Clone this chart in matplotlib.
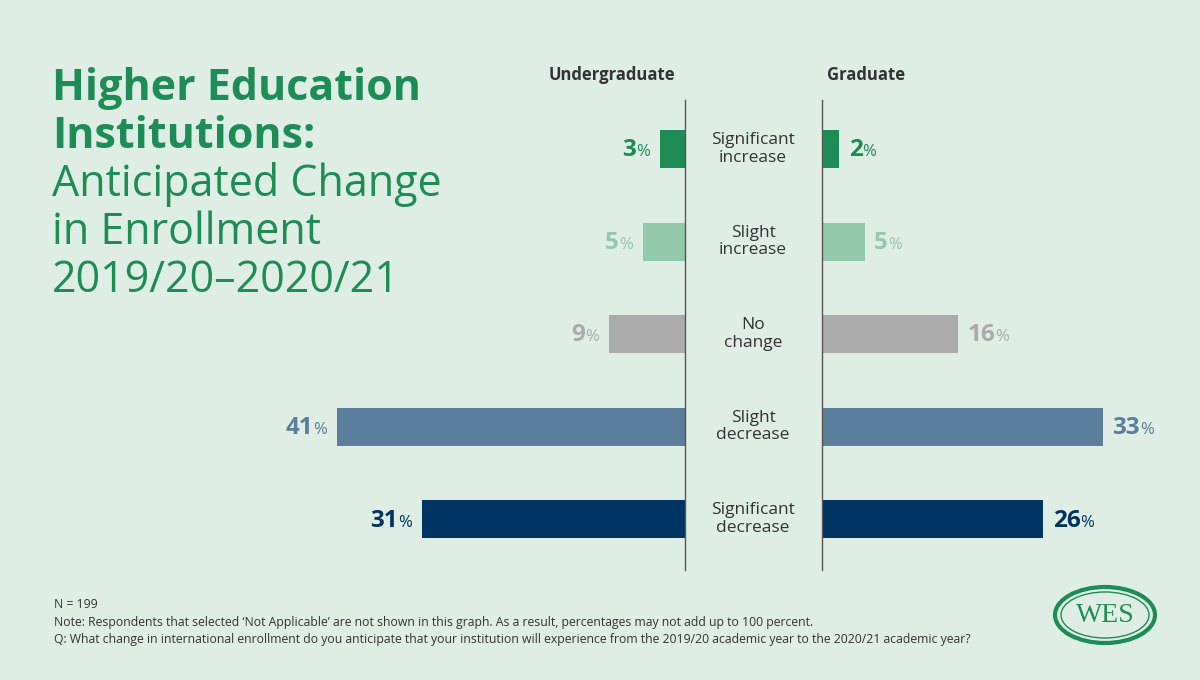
import matplotlib.pyplot as plt
from matplotlib.patches import Ellipse
from matplotlib.offsetbox import TextArea, HPacker, AnnotationBbox

categories = ["Significant\nincrease", "Slight\nincrease", "No\nchange",
              "Slight\ndecrease", "Significant\ndecrease"]
undergrad = [3, 5, 9, 41, 31]
graduate = [2, 5, 16, 33, 26]
colors = ["#1e8c55", "#93c8aa", "#ababab", "#5b7e9c", "#003462"]

BG = "#deeee4"
W, H = 1200, 680
PX = 8.5  # pixels per percent

plt.rcParams['font.family'] = ['Open Sans', 'DejaVu Sans']
fig = plt.figure(figsize=(12, 6.8), dpi=100, facecolor=BG)


def fx(x):
    return x / W


def fy(y):
    return 1 - y / H


top, bot = 100, 570
ax_l = fig.add_axes([fx(300), fy(bot), fx(385), (bot - top) / H])
ax_r = fig.add_axes([fx(822), fy(bot), fx(300), (bot - top) / H])
ax_l.set_xlim(385 / PX, 0)
ax_r.set_xlim(0, 300 / PX)
ypos = list(range(len(categories)))


def label(ax, x, y, val, col, side):
    num = TextArea(str(val), textprops=dict(fontsize=17.5, fontweight='bold', color=col))
    pct = TextArea("%", textprops=dict(fontsize=12, color=col))
    box = HPacker(children=[num, pct], pad=0, sep=0, align='baseline')
    ab = AnnotationBbox(box, (x, y), xybox=(-7 if side == 'l' else 7, -1),
                        xycoords='data', boxcoords='offset points',
                        box_alignment=(1 if side == 'l' else 0, 0.5),
                        frameon=False, annotation_clip=False)
    ax.add_artist(ab)


for ax, vals, side in [(ax_l, undergrad, 'l'), (ax_r, graduate, 'r')]:
    ax.set_facecolor('none')
    ax.set_ylim(4.55, -0.53)
    ax.barh(ypos, vals, height=0.41, color=colors)
    for y, v, c in zip(ypos, vals, colors):
        label(ax, v, y, v, c, side)
    ax.axis('off')

# axis divider lines
for x in (685, 822):
    fig.add_artist(plt.Line2D([fx(x), fx(x)], [fy(top), fy(bot)], color="#555555", lw=1))

for y, cat in zip(ypos, categories):
    ax_r.text(-69 / PX, y, cat, ha='center', va='center', fontsize=12.5,
              fontweight='medium', color="#333333", linespacing=1.15)

fig.text(fx(612), fy(75), "Undergraduate", ha='center', va='center',
         fontsize=12, fontweight='bold', color="#333333")
fig.text(fx(866), fy(75), "Graduate", ha='center', va='center',
         fontsize=12, fontweight='bold', color="#333333")

title_lines = [("Higher Education", 'bold'), ("Institutions:", 'bold'),
               ("Anticipated Change", 'medium'), ("in Enrollment", 'medium'),
               ("2019/20\u20132020/21", 'medium')]
for i, (t, w) in enumerate(title_lines):
    fig.text(fx(52), fy(100 + 48 * i), t, ha='left', va='baseline',
             fontsize=31, fontweight=w, color="#1e8c55")

notes = ["N = 199",
         "Note: Respondents that selected \u2018Not Applicable\u2019 are not shown in this graph. "
         "As a result, percentages may not add up to 100 percent.",
         "Q: What change in international enrollment do you anticipate that your institution "
         "will experience from the 2019/20 academic year to the 2020/21 academic year?"]
for i, n in enumerate(notes):
    fig.text(fx(54), fy(605 + 17.5 * i), n, ha='left', va='center', fontsize=8.8,
             color="#333333")

# logo
fig.add_artist(Ellipse((fx(1105), fy(615)), fx(100), 56 / H, facecolor='none',
                       edgecolor="#1e8c55", lw=3, transform=fig.transFigure))
fig.add_artist(Ellipse((fx(1105), fy(615)), fx(88), 46 / H, facecolor='none',
                       edgecolor="#1e8c55", lw=1, transform=fig.transFigure))
fig.text(fx(1105), fy(616), "WES", ha='center', va='center', fontsize=20,
         family='Liberation Serif', color="#1e8c55")

fig.savefig("out.png", dpi=100, facecolor=BG)
